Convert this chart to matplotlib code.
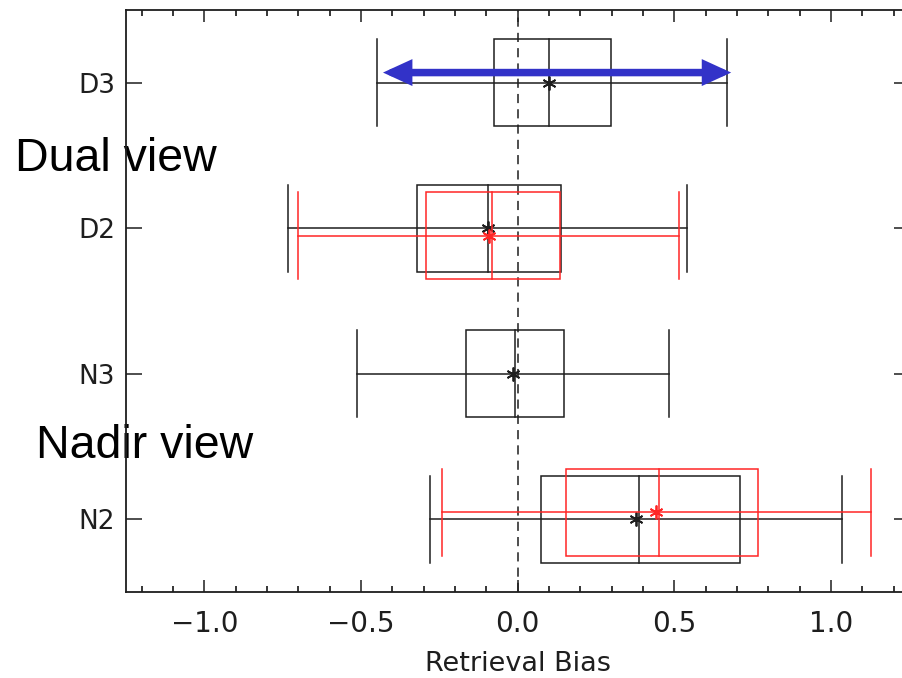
#!/usr/bin/env python3
"""Box plots of retrieval bias for nadir / dual view configurations."""
import matplotlib
matplotlib.use("Agg")
import matplotlib.pyplot as plt
from matplotlib.patches import Rectangle, FancyArrowPatch, ArrowStyle
from matplotlib.ticker import MultipleLocator

# ---- data ----
labels = ["N2", "N3", "D2", "D3"]

blk_lo = [-0.279, -0.514, -0.734, -0.449]
blk_q1 = [0.075, -0.165, -0.321, -0.076]
blk_med = [0.387, -0.009, -0.095, 0.100]
blk_q3 = [0.709, 0.148, 0.138, 0.297]
blk_hi = [1.034, 0.484, 0.539, 0.667]
blk_mean = [0.377, -0.014, -0.096, 0.100]

red_labels = ["N2", "D2"]
red_lo = [-0.242, -0.702]
red_q1 = [0.153, -0.293]
red_med = [0.452, -0.082]
red_q3 = [0.767, 0.135]
red_hi = [1.126, 0.515]
red_mean = [0.441, -0.092]

arrow_x = [-0.430, 0.681]   # blue range arrow on D3

BLACK, RED, BLUE = "#1e1e1e", "#ff2626", "#3232c8"
RED_SHIFT = {"N2": 0.048, "D2": -0.05}
HALF = 0.30

W, H = 902, 678
fig = plt.figure(figsize=(W / 100, H / 100), dpi=100)
ax = fig.add_axes([126 / W, 1 - 592 / H, (909.5 - 126) / W, (592 - 10) / H])
ax.patch.set_alpha(0)


def draw_box(y, lo, q1, med, q3, hi, mean, color, z):
    kw = dict(color=color, lw=1.1, zorder=z)
    ax.plot([lo, hi], [y, y], **kw)
    ax.plot([lo, lo], [y - HALF, y + HALF], **kw)
    ax.plot([hi, hi], [y - HALF, y + HALF], **kw)
    ax.add_patch(Rectangle((q1, y - HALF), q3 - q1, 2 * HALF, fill=False,
                           ec=color, lw=1.1, zorder=z))
    ax.plot([med, med], [y - HALF, y + HALF], **kw)
    ax.plot([mean], [y], marker=(6, 2, 0), ms=10, mew=1.3, color=color, zorder=z + 1)


ypos = {lab: i + 1 for i, lab in enumerate(labels)}

ax.axvline(0, color=BLACK, lw=1.1, ls=(0, (6, 4)), zorder=1)

for i, lab in enumerate(labels):
    draw_box(ypos[lab], blk_lo[i], blk_q1[i], blk_med[i], blk_q3[i], blk_hi[i],
             blk_mean[i], BLACK, 3)
for i, lab in enumerate(red_labels):
    draw_box(ypos[lab] + RED_SHIFT[lab], red_lo[i], red_q1[i], red_med[i], red_q3[i],
             red_hi[i], red_mean[i], RED, 5)

arr = FancyArrowPatch((arrow_x[0], ypos["D3"] + 0.07), (arrow_x[1], ypos["D3"] + 0.07),
                      arrowstyle=ArrowStyle("<|-|>", head_length=12, head_width=5.5),
                      mutation_scale=1, lw=5.4, color=BLUE, shrinkA=0, shrinkB=0,
                      zorder=8, joinstyle="miter")
ax.add_patch(arr)

ax.set_xlim(-1.25, 1.25)
ax.set_ylim(0.5, 4.5)
ax.xaxis.set_minor_locator(MultipleLocator(0.1))
ax.set_xticks([-1.0, -0.5, 0.0, 0.5, 1.0])
ax.set_xticklabels(["\u22121.0", "\u22120.5", "0.0", "0.5", "1.0"])
ax.set_yticks([ypos[l] for l in labels])
ax.set_yticklabels(labels)

ax.tick_params(axis="x", which="major", direction="in", top=True, length=8.6,
               width=1.1, pad=13, labelsize=20, colors=BLACK)
ax.tick_params(axis="x", which="minor", direction="in", top=True, length=4.3, width=1.1)
ax.tick_params(axis="y", which="major", direction="in", right=True, length=11.5,
               width=1.1, pad=8, labelsize=19, colors=BLACK)
for s in ax.spines.values():
    s.set_linewidth(1.3)
    s.set_color(BLACK)

ax.set_xlabel("Retrieval Bias", fontsize=19.5, color=BLACK, labelpad=9)

fig.text(15 / W, 1 - 171.5 / H, "Dual view", fontsize=33.5, family="Liberation Sans",
         va="baseline", ha="left", zorder=-1)
fig.text(36.5 / W, 1 - 457.5 / H, "Nadir view", fontsize=33.5, family="Liberation Sans",
         va="baseline", ha="left", zorder=-1)

fig.savefig("out.png", dpi=100, facecolor="white")
